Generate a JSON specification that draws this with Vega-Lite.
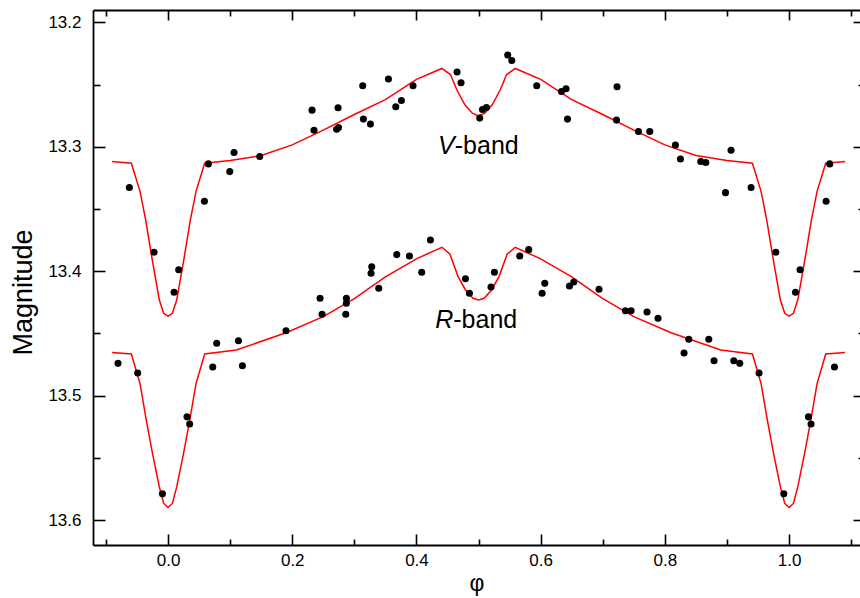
{
  "$schema": "https://vega.github.io/schema/vega-lite/v6.json",
  "width": 767,
  "height": 535,
  "autosize": {"type": "none"},
  "padding": {"left": 93, "top": 10, "right": 0, "bottom": 53},
  "background": "white",
  "config": {
    "view": {"stroke": null},
    "font": "Liberation Sans",
    "axis": {
      "domainColor": "black",
      "domainWidth": 1.8,
      "tickColor": "black",
      "tickWidth": 1.6,
      "labelColor": "black",
      "titleColor": "black",
      "labelFont": "Liberation Sans",
      "titleFont": "Liberation Sans",
      "labelFontSize": 17,
      "titleFontSize": 22,
      "titleFontWeight": "normal",
      "grid": false
    }
  },
  "datasets": {
    "obs": [
      {"phase": -0.0622, "mag": 13.3327, "band": "V"},
      {"phase": -0.0225, "mag": 13.3847, "band": "V"},
      {"phase": 0.0097, "mag": 13.4169, "band": "V"},
      {"phase": 0.0172, "mag": 13.3987, "band": "V"},
      {"phase": 0.0586, "mag": 13.3437, "band": "V"},
      {"phase": 0.065, "mag": 13.3137, "band": "V"},
      {"phase": 0.0994, "mag": 13.3199, "band": "V"},
      {"phase": 0.1063, "mag": 13.3046, "band": "V"},
      {"phase": 0.1477, "mag": 13.3078, "band": "V"},
      {"phase": 0.2319, "mag": 13.2705, "band": "V"},
      {"phase": 0.2351, "mag": 13.2866, "band": "V"},
      {"phase": 0.2738, "mag": 13.2686, "band": "V"},
      {"phase": 0.2715, "mag": 13.2858, "band": "V"},
      {"phase": 0.2745, "mag": 13.2845, "band": "V"},
      {"phase": 0.3135, "mag": 13.2509, "band": "V"},
      {"phase": 0.3146, "mag": 13.2777, "band": "V"},
      {"phase": 0.3259, "mag": 13.2817, "band": "V"},
      {"phase": 0.3549, "mag": 13.2455, "band": "V"},
      {"phase": 0.3667, "mag": 13.2678, "band": "V"},
      {"phase": 0.3758, "mag": 13.2627, "band": "V"},
      {"phase": 0.3945, "mag": 13.2509, "band": "V"},
      {"phase": 0.4654, "mag": 13.2399, "band": "V"},
      {"phase": 0.4718, "mag": 13.2485, "band": "V"},
      {"phase": 0.5019, "mag": 13.2769, "band": "V"},
      {"phase": 0.5063, "mag": 13.27, "band": "V"},
      {"phase": 0.5127, "mag": 13.2684, "band": "V"},
      {"phase": 0.547, "mag": 13.2262, "band": "V"},
      {"phase": 0.5535, "mag": 13.2306, "band": "V"},
      {"phase": 0.5937, "mag": 13.2509, "band": "V"},
      {"phase": 0.6335, "mag": 13.2555, "band": "V"},
      {"phase": 0.6409, "mag": 13.2533, "band": "V"},
      {"phase": 0.6432, "mag": 13.2777, "band": "V"},
      {"phase": 0.723, "mag": 13.2517, "band": "V"},
      {"phase": 0.7221, "mag": 13.2785, "band": "V"},
      {"phase": 0.7575, "mag": 13.2877, "band": "V"},
      {"phase": 0.7757, "mag": 13.2877, "band": "V"},
      {"phase": 0.817, "mag": 13.2986, "band": "V"},
      {"phase": 0.8251, "mag": 13.3097, "band": "V"},
      {"phase": 0.8578, "mag": 13.3118, "band": "V"},
      {"phase": 0.8659, "mag": 13.3126, "band": "V"},
      {"phase": 0.8976, "mag": 13.3368, "band": "V"},
      {"phase": 0.9066, "mag": 13.3027, "band": "V"},
      {"phase": 0.9388, "mag": 13.3327, "band": "V"},
      {"phase": 0.9786, "mag": 13.3847, "band": "V"},
      {"phase": 1.0103, "mag": 13.4169, "band": "V"},
      {"phase": 1.0177, "mag": 13.3987, "band": "V"},
      {"phase": 1.0596, "mag": 13.3437, "band": "V"},
      {"phase": 1.0655, "mag": 13.3137, "band": "V"},
      {"phase": -0.0805, "mag": 13.474, "band": "R"},
      {"phase": -0.0488, "mag": 13.4818, "band": "R"},
      {"phase": -0.009, "mag": 13.5789, "band": "R"},
      {"phase": 0.0306, "mag": 13.517, "band": "R"},
      {"phase": 0.0349, "mag": 13.5228, "band": "R"},
      {"phase": 0.072, "mag": 13.477, "band": "R"},
      {"phase": 0.0784, "mag": 13.4579, "band": "R"},
      {"phase": 0.1134, "mag": 13.4558, "band": "R"},
      {"phase": 0.1198, "mag": 13.4759, "band": "R"},
      {"phase": 0.19, "mag": 13.4478, "band": "R"},
      {"phase": 0.2448, "mag": 13.4217, "band": "R"},
      {"phase": 0.248, "mag": 13.4346, "band": "R"},
      {"phase": 0.2862, "mag": 13.4346, "band": "R"},
      {"phase": 0.2872, "mag": 13.4217, "band": "R"},
      {"phase": 0.2872, "mag": 13.4257, "band": "R"},
      {"phase": 0.3269, "mag": 13.4016, "band": "R"},
      {"phase": 0.328, "mag": 13.3963, "band": "R"},
      {"phase": 0.3393, "mag": 13.4137, "band": "R"},
      {"phase": 0.3683, "mag": 13.3866, "band": "R"},
      {"phase": 0.3887, "mag": 13.3877, "band": "R"},
      {"phase": 0.4085, "mag": 13.4008, "band": "R"},
      {"phase": 0.4225, "mag": 13.3748, "band": "R"},
      {"phase": 0.4789, "mag": 13.406, "band": "R"},
      {"phase": 0.4853, "mag": 13.4177, "band": "R"},
      {"phase": 0.5201, "mag": 13.4126, "band": "R"},
      {"phase": 0.5256, "mag": 13.4008, "band": "R"},
      {"phase": 0.5663, "mag": 13.3877, "band": "R"},
      {"phase": 0.5808, "mag": 13.3826, "band": "R"},
      {"phase": 0.6023, "mag": 13.4177, "band": "R"},
      {"phase": 0.6066, "mag": 13.4097, "band": "R"},
      {"phase": 0.6464, "mag": 13.4118, "band": "R"},
      {"phase": 0.6533, "mag": 13.4086, "band": "R"},
      {"phase": 0.694, "mag": 13.4145, "band": "R"},
      {"phase": 0.7365, "mag": 13.4317, "band": "R"},
      {"phase": 0.7456, "mag": 13.4317, "band": "R"},
      {"phase": 0.7713, "mag": 13.4327, "band": "R"},
      {"phase": 0.789, "mag": 13.4378, "band": "R"},
      {"phase": 0.8309, "mag": 13.4657, "band": "R"},
      {"phase": 0.8385, "mag": 13.4547, "band": "R"},
      {"phase": 0.8707, "mag": 13.4547, "band": "R"},
      {"phase": 0.8792, "mag": 13.4719, "band": "R"},
      {"phase": 0.911, "mag": 13.4719, "band": "R"},
      {"phase": 0.9206, "mag": 13.474, "band": "R"},
      {"phase": 0.9517, "mag": 13.4818, "band": "R"},
      {"phase": 0.9915, "mag": 13.5789, "band": "R"},
      {"phase": 1.0312, "mag": 13.517, "band": "R"},
      {"phase": 1.0354, "mag": 13.5228, "band": "R"},
      {"phase": 1.0731, "mag": 13.477, "band": "R"}
    ],
    "model": [
      {"phase": -0.09, "mag": 13.3118, "band": "V"},
      {"phase": -0.059, "mag": 13.3131, "band": "V"},
      {"phase": -0.045, "mag": 13.336, "band": "V"},
      {"phase": -0.036, "mag": 13.3587, "band": "V"},
      {"phase": -0.026, "mag": 13.389, "band": "V"},
      {"phase": -0.014, "mag": 13.4231, "band": "V"},
      {"phase": -0.007, "mag": 13.4338, "band": "V"},
      {"phase": 0.0, "mag": 13.436, "band": "V"},
      {"phase": 0.007, "mag": 13.4338, "band": "V"},
      {"phase": 0.014, "mag": 13.4231, "band": "V"},
      {"phase": 0.026, "mag": 13.389, "band": "V"},
      {"phase": 0.036, "mag": 13.3587, "band": "V"},
      {"phase": 0.045, "mag": 13.336, "band": "V"},
      {"phase": 0.059, "mag": 13.3131, "band": "V"},
      {"phase": 0.1, "mag": 13.311, "band": "V"},
      {"phase": 0.15, "mag": 13.307, "band": "V"},
      {"phase": 0.2, "mag": 13.2984, "band": "V"},
      {"phase": 0.25, "mag": 13.2866, "band": "V"},
      {"phase": 0.3, "mag": 13.274, "band": "V"},
      {"phase": 0.35, "mag": 13.262, "band": "V"},
      {"phase": 0.4, "mag": 13.2458, "band": "V"},
      {"phase": 0.441, "mag": 13.237, "band": "V"},
      {"phase": 0.455, "mag": 13.2421, "band": "V"},
      {"phase": 0.465, "mag": 13.2541, "band": "V"},
      {"phase": 0.478, "mag": 13.2662, "band": "V"},
      {"phase": 0.49, "mag": 13.2729, "band": "V"},
      {"phase": 0.5, "mag": 13.2751, "band": "V"},
      {"phase": 0.51, "mag": 13.2729, "band": "V"},
      {"phase": 0.522, "mag": 13.2662, "band": "V"},
      {"phase": 0.535, "mag": 13.2541, "band": "V"},
      {"phase": 0.545, "mag": 13.2421, "band": "V"},
      {"phase": 0.559, "mag": 13.237, "band": "V"},
      {"phase": 0.6, "mag": 13.2458, "band": "V"},
      {"phase": 0.65, "mag": 13.262, "band": "V"},
      {"phase": 0.7, "mag": 13.274, "band": "V"},
      {"phase": 0.75, "mag": 13.2866, "band": "V"},
      {"phase": 0.8, "mag": 13.2984, "band": "V"},
      {"phase": 0.85, "mag": 13.307, "band": "V"},
      {"phase": 0.9, "mag": 13.311, "band": "V"},
      {"phase": 0.941, "mag": 13.3131, "band": "V"},
      {"phase": 0.955, "mag": 13.336, "band": "V"},
      {"phase": 0.964, "mag": 13.3587, "band": "V"},
      {"phase": 0.974, "mag": 13.389, "band": "V"},
      {"phase": 0.986, "mag": 13.4231, "band": "V"},
      {"phase": 0.993, "mag": 13.4338, "band": "V"},
      {"phase": 1.0, "mag": 13.436, "band": "V"},
      {"phase": 1.007, "mag": 13.4338, "band": "V"},
      {"phase": 1.014, "mag": 13.4231, "band": "V"},
      {"phase": 1.026, "mag": 13.389, "band": "V"},
      {"phase": 1.036, "mag": 13.3587, "band": "V"},
      {"phase": 1.045, "mag": 13.336, "band": "V"},
      {"phase": 1.059, "mag": 13.3131, "band": "V"},
      {"phase": 1.09, "mag": 13.3118, "band": "V"},
      {"phase": -0.09, "mag": 13.4652, "band": "R"},
      {"phase": -0.059, "mag": 13.4665, "band": "R"},
      {"phase": -0.045, "mag": 13.4905, "band": "R"},
      {"phase": -0.035, "mag": 13.5196, "band": "R"},
      {"phase": -0.025, "mag": 13.5464, "band": "R"},
      {"phase": -0.014, "mag": 13.5733, "band": "R"},
      {"phase": -0.007, "mag": 13.5866, "band": "R"},
      {"phase": 0.0, "mag": 13.5899, "band": "R"},
      {"phase": 0.007, "mag": 13.5866, "band": "R"},
      {"phase": 0.014, "mag": 13.5733, "band": "R"},
      {"phase": 0.025, "mag": 13.5464, "band": "R"},
      {"phase": 0.035, "mag": 13.5196, "band": "R"},
      {"phase": 0.045, "mag": 13.4905, "band": "R"},
      {"phase": 0.059, "mag": 13.4665, "band": "R"},
      {"phase": 0.11, "mag": 13.4633, "band": "R"},
      {"phase": 0.19, "mag": 13.4494, "band": "R"},
      {"phase": 0.25, "mag": 13.4365, "band": "R"},
      {"phase": 0.3, "mag": 13.422, "band": "R"},
      {"phase": 0.35, "mag": 13.4045, "band": "R"},
      {"phase": 0.4, "mag": 13.39, "band": "R"},
      {"phase": 0.441, "mag": 13.3807, "band": "R"},
      {"phase": 0.454, "mag": 13.3863, "band": "R"},
      {"phase": 0.467, "mag": 13.4043, "band": "R"},
      {"phase": 0.479, "mag": 13.415, "band": "R"},
      {"phase": 0.491, "mag": 13.4217, "band": "R"},
      {"phase": 0.5, "mag": 13.4231, "band": "R"},
      {"phase": 0.509, "mag": 13.4217, "band": "R"},
      {"phase": 0.521, "mag": 13.415, "band": "R"},
      {"phase": 0.533, "mag": 13.4043, "band": "R"},
      {"phase": 0.546, "mag": 13.3863, "band": "R"},
      {"phase": 0.559, "mag": 13.3807, "band": "R"},
      {"phase": 0.6, "mag": 13.39, "band": "R"},
      {"phase": 0.65, "mag": 13.4045, "band": "R"},
      {"phase": 0.7, "mag": 13.422, "band": "R"},
      {"phase": 0.75, "mag": 13.4365, "band": "R"},
      {"phase": 0.81, "mag": 13.4494, "band": "R"},
      {"phase": 0.89, "mag": 13.4633, "band": "R"},
      {"phase": 0.941, "mag": 13.4665, "band": "R"},
      {"phase": 0.955, "mag": 13.4905, "band": "R"},
      {"phase": 0.965, "mag": 13.5196, "band": "R"},
      {"phase": 0.975, "mag": 13.5464, "band": "R"},
      {"phase": 0.986, "mag": 13.5733, "band": "R"},
      {"phase": 0.993, "mag": 13.5866, "band": "R"},
      {"phase": 1.0, "mag": 13.5899, "band": "R"},
      {"phase": 1.007, "mag": 13.5866, "band": "R"},
      {"phase": 1.014, "mag": 13.5733, "band": "R"},
      {"phase": 1.025, "mag": 13.5464, "band": "R"},
      {"phase": 1.035, "mag": 13.5196, "band": "R"},
      {"phase": 1.045, "mag": 13.4905, "band": "R"},
      {"phase": 1.059, "mag": 13.4665, "band": "R"},
      {"phase": 1.09, "mag": 13.4652, "band": "R"}
    ],
    "labels": [
      {"phase": 0.4617, "mag": 13.3056, "band": "V"},
      {"phase": 0.4593, "mag": 13.4459, "band": "R"}
    ]
  },
  "layer": [
    {
      "data": {"name": "model"},
      "mark": {"type": "line", "color": "#ff0000", "strokeWidth": 1.5, "clip": true},
      "encoding": {
        "x": {
          "field": "phase", "type": "quantitative",
          "scale": {"domain": [-0.1208, 1.1142], "nice": false, "zero": false},
          "axis": {
            "orient": "bottom",
            "title": "φ",
            "titleFontSize": 23,
            "titlePadding": -1,
            "values": [-0.1, 0, 0.1, 0.2, 0.3, 0.4, 0.5, 0.6, 0.7, 0.8, 0.9, 1, 1.1],
            "labelExpr": "abs(round(datum.value*10)) % 2 == 0 ? format(datum.value, '.1f') : ''",
            "tickSize": {"condition": {"test": "abs(round(datum.value*10)) % 2 == 1", "value": -6}, "value": -11},
            "labelPadding": 18,
            "labelFlush": false,
            "labelOverlap": false
          }
        },
        "y": {
          "field": "mag", "type": "quantitative",
          "scale": {"domain": [13.19, 13.62], "reverse": true, "nice": false, "zero": false},
          "axis": {
            "orient": "left",
            "title": "Magnitude",
            "titleFontSize": 27,
            "titlePadding": 10,
            "titleY": 282,
            "values": [13.2, 13.25, 13.3, 13.35, 13.4, 13.45, 13.5, 13.55, 13.6],
            "labelExpr": "round(datum.value*100) % 10 == 0 ? format(datum.value, '.1f') : ''",
            "tickSize": {"condition": {"test": "round(datum.value*100) % 10 != 0", "value": -7}, "value": -12},
            "labelPadding": 24,
            "labelFlush": false,
            "labelOverlap": false
          }
        },
        "detail": {"field": "band"}
      }
    },
    {
      "data": {"name": "obs"},
      "mark": {"type": "circle", "color": "black", "opacity": 1, "size": 50},
      "encoding": {
        "x": {"field": "phase", "type": "quantitative", "axis": {"orient": "top", "title": null, "labels": false,
            "values": [-0.1, 0, 0.1, 0.2, 0.3, 0.4, 0.5, 0.6, 0.7, 0.8, 0.9, 1, 1.1],
            "tickSize": {"condition": {"test": "abs(round(datum.value*10)) % 2 == 1", "value": -6}, "value": -10}}},
        "y": {"field": "mag", "type": "quantitative", "axis": {"orient": "right", "title": null, "labels": false, "domain": false,
            "values": [13.2, 13.25, 13.3, 13.35, 13.4, 13.45, 13.5, 13.55, 13.6],
            "tickSize": {"condition": {"test": "round(datum.value*100) % 10 != 0", "value": -2}, "value": -7}}}
      }
    },
    {
      "data": {"name": "labels"},
      "mark": {"type": "text", "align": "right", "baseline": "alphabetic", "fontStyle": "italic", "fontSize": 25, "font": "Liberation Sans", "color": "black"},
      "encoding": {
        "x": {"field": "phase", "type": "quantitative", "axis": null},
        "y": {"field": "mag", "type": "quantitative", "axis": null},
        "text": {"field": "band"}
      }
    },
    {
      "data": {"name": "labels"},
      "mark": {"type": "text", "align": "left", "baseline": "alphabetic", "fontSize": 25, "font": "Liberation Sans", "color": "black"},
      "encoding": {
        "x": {"field": "phase", "type": "quantitative", "axis": null},
        "y": {"field": "mag", "type": "quantitative", "axis": null},
        "text": {"value": "-band"}
      }
    }
  ],
  "resolve": {"axis": {"x": "independent", "y": "independent"}}
}
